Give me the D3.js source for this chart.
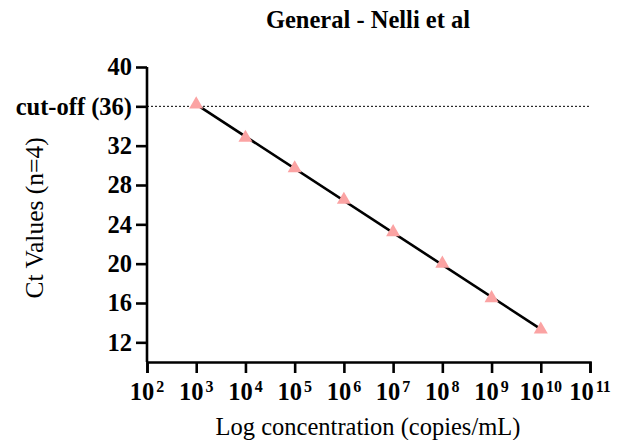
<!DOCTYPE html>
<html>
<head>
<meta charset="utf-8">
<script src="https://cdn.jsdelivr.net/npm/d3@7"></script>
<style>
  body { margin: 0; background: #fff; }
  svg { display: block; font-family: "Liberation Serif", "Times New Roman", serif; }
</style>
</head>
<body>
<div id="chart"></div>
<script>
// Standard curve, Ct vs log concentration
const exponents = [3, 4, 5, 6, 7, 8, 9, 10];
const ctValues = [36.2, 32.8, 29.7, 26.5, 23.2, 20.0, 16.5, 13.3];
const yTicks = [12, 16, 20, 24, 28, 32, 36, 40];
const xTickExps = [2, 3, 4, 5, 6, 7, 8, 9, 10, 11];
const cutoff = 36;

const W = 623, H = 440;
const M = { top: 67, right: 33, bottom: 78, left: 147 };
const FS = 24.5;

const svg = d3.select('#chart').append('svg')
  .attr('width', W).attr('height', H);

const x = d3.scaleLog().domain([1e2, 1e11]).range([M.left, W - M.right]);
const y = d3.scaleLinear().domain([10, 40]).range([H - M.bottom, M.top]);

// title
svg.append('text')
  .attr('x', 368).attr('y', 28)
  .attr('text-anchor', 'middle')
  .attr('font-size', FS).attr('font-weight', 'bold')
  .text('General - Nelli et al');

// cut-off dotted line
svg.append('line')
  .attr('x1', x(1e2)).attr('x2', x(1e11))
  .attr('y1', y(cutoff)).attr('y2', y(cutoff))
  .attr('stroke', '#000').attr('stroke-width', 1)
  .attr('stroke-dasharray', '2 2');

// y axis
const yAxis = svg.append('g')
  .attr('transform', `translate(${M.left},0)`)
  .call(d3.axisLeft(y).tickValues(yTicks).tickSize(11).tickPadding(4)
    .tickFormat(d => d === cutoff ? `cut-off (${cutoff})` : d));
yAxis.select('.domain').attr('d', `M0,${y(40)}V${y(10)}`);

// x axis
const xAxis = svg.append('g')
  .attr('transform', `translate(0,${y(10)})`)
  .call(d3.axisBottom(x).tickValues(xTickExps.map(e => Math.pow(10, e)))
    .tickSize(11).tickFormat(''));

[yAxis, xAxis].forEach(a => {
  a.selectAll('.domain, .tick line').attr('stroke', '#000').attr('stroke-width', 2.6);
  a.selectAll('.tick text')
    .attr('fill', '#000').attr('font-size', FS).attr('font-weight', 'bold')
    .attr('font-family', '"Liberation Serif", "Times New Roman", serif');
});

// x tick labels with superscript exponents
const xl = svg.append('g')
  .attr('font-size', FS).attr('font-weight', 'bold');
xTickExps.forEach(e => {
  const t = xl.append('text')
    .attr('x', x(Math.pow(10, e)))
    .attr('y', 400)
    .attr('text-anchor', 'middle');
  t.append('tspan').text('10');
  t.append('tspan').attr('dx', 2).attr('dy', -8).attr('font-size', 16).text(e);
});

// axis titles
svg.append('text')
  .attr('x', 368).attr('y', 435)
  .attr('text-anchor', 'middle')
  .attr('font-size', FS)
  .text('Log concentration (copies/mL)');

svg.append('text')
  .attr('transform', `translate(43,${218}) rotate(-90)`)
  .attr('text-anchor', 'middle')
  .attr('font-size', 25.5)
  .text('Ct Values (n=4)');

// linear fit of Ct against log10 concentration
const n = exponents.length;
const mx = d3.mean(exponents), my = d3.mean(ctValues);
const slope = d3.sum(exponents, (e, i) => (e - mx) * (ctValues[i] - my)) /
              d3.sum(exponents, e => (e - mx) * (e - mx));
const icpt = my - slope * mx;
const fitX = [exponents[0], exponents[n - 1]];

svg.append('path')
  .attr('d', d3.line()
    .x(e => x(Math.pow(10, e)))
    .y(e => y(icpt + slope * e))(fitX))
  .attr('fill', 'none').attr('stroke', '#000').attr('stroke-width', 2.6);

// data points
svg.append('g').selectAll('path')
  .data(exponents)
  .join('path')
  .attr('transform', (e, i) => `translate(${x(Math.pow(10, e))},${y(ctValues[i])})`)
  .attr('d', d3.symbol(d3.symbolTriangle, 85))
  .attr('fill', '#fba3a3');
</script>
</body>
</html>
